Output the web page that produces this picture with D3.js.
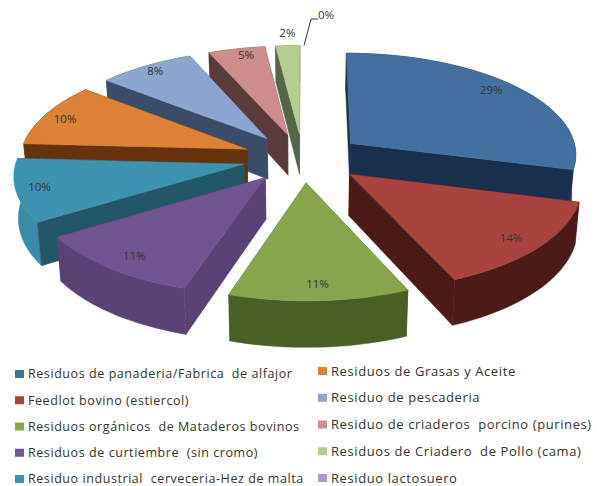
<!DOCTYPE html>
<html>
<head>
<meta charset="utf-8">
<script src="https://d3js.org/d3.v7.min.js"></script>
<style>
  html, body { margin: 0; padding: 0; background: #fff; }
  text { font-family: "Open Sans", sans-serif; fill: #333; }
</style>
</head>
<body>
<div id="chart"></div>
<script>
  var categories = [
    "Residuos de panaderia/Fabrica  de alfajor",
    "Feedlot bovino (estiercol)",
    "Residuos orgánicos  de Mataderos bovinos",
    "Residuos de curtiembre  (sin cromo)",
    "Residuo industrial  cerveceria-Hez de malta",
    "Residuos de Grasas y Aceite",
    "Residuo de pescaderia",
    "Residuo de criaderos  porcino (purines)",
    "Residuos de Criadero  de Pollo (cama)",
    "Residuo lactosuero"
  ];
  var values = [29.2, 14.3, 11.4, 11.1, 9.9, 10, 7.7, 4.5, 1.9, 0];
  var labels = ["29%", "14%", "11%", "11%", "10%", "10%", "8%", "5%", "2%", "0%"];
  var topColors = ["#44709f", "#a8433f", "#88a54e", "#70548f", "#3d93ae", "#dc8135", "#8ea6cf", "#cd8d8c", "#b5cd90", "#a99cc6"];
  var wallColors = ["#1a2f4c", "#4a1b19", "#4a5f26", "#5a4274", "#235767", "#66330f", "#3b4c66", "#5a3b3b", "#56654a", "#55486b"];
  var rimColors = ["#1a2f4c", "#4a1b19", "#4a5f26", "#5a4274", "#3a8ba5", "#66330f", "#3b4c66", "#5a3b3b", "#56654a", "#55486b"];

  var width = 597, height = 486;
  var cx = 303, cy = 158, rx = 227, ry = 101.5, persp = 0.096, explodeX = 0.267, explodeY = 0.24, depth = 41;

  var svg = d3.select("#chart")
    .append("svg")
      .attr("width", width)
      .attr("height", height)
      .style("display", "block");

  // ground plane (u right, v toward viewer) to screen
  function project(u, v, z) {
    var f = 1 / (1 - persp * v);
    var shrink = z ? 0.985 : 1;
    return [cx + rx * u * f * shrink, cy + ry * v * f + (z ? depth * f : 0)];
  }

  var arcs = d3.pie().sort(null).value(function (d) { return d; })(values);

  function ground(d, a, r) {
    var mid = (d.startAngle + d.endAngle) / 2;
    return [explodeX * Math.sin(mid) + r * Math.sin(a), -explodeY * Math.cos(mid) - r * Math.cos(a)];
  }

  function rim(d) {
    var n = Math.max(2, Math.ceil((d.endAngle - d.startAngle) * 30));
    return d3.range(n + 1).map(function (i) {
      return ground(d, d.startAngle + (d.endAngle - d.startAngle) * i / n, 1);
    });
  }

  var line = d3.line();

  function drawFace(pts, fill) {
    svg.append("path").attr("d", line(pts) + "Z").attr("fill", fill).attr("stroke", fill).attr("stroke-width", 0.5);
  }

  // back slices first so the front ones cover them
  var order = arcs.filter(function (d) { return d.value > 0; }).sort(function (a, b) {
    return ground(a, 0, 0)[1] - ground(b, 0, 0)[1];
  });

  order.forEach(function (d) {
    var i = d.index;
    var apex = ground(d, 0, 0);
    var edge = rim(d);
    var walls = [
      {pts: [apex, edge[0]], fill: wallColors[i]},
      {pts: [apex, edge[edge.length - 1]], fill: wallColors[i]},
      {pts: edge, fill: rimColors[i]}
    ];
    walls.sort(function (a, b) { return d3.mean(a.pts, function (p) { return p[1]; }) - d3.mean(b.pts, function (p) { return p[1]; }); });
    walls.forEach(function (w) {
      var up = w.pts.map(function (p) { return project(p[0], p[1], false); });
      var down = w.pts.map(function (p) { return project(p[0], p[1], true); }).reverse();
      drawFace(up.concat(down), w.fill);
    });
    drawFace([apex].concat(edge).map(function (p) { return project(p[0], p[1], false); }), topColors[i]);
  });

  // percent labels, placed by hand like the chart's best-fit ones
  var labelNudge = [[7, -8], [12, 6], [1, 9], [-8, 7], [-23, 2], [-20, -2], [-13, -9], [0, -10], [1, -3]];
  arcs.forEach(function (d, i) {
    if (d.value === 0) return;
    var mid = (d.startAngle + d.endAngle) / 2;
    var g = ground(d, mid, i === 8 ? 1.12 : 0.8);
    var p = project(g[0], g[1], false);
    svg.append("text")
      .attr("x", p[0] + labelNudge[i][0]).attr("y", p[1] + labelNudge[i][1])
      .attr("text-anchor", "middle").attr("dy", "0.35em")
      .style("font-size", "11.5px")
      .text(labels[i]);
  });

  // leader line for the empty slice
  var zero = ground(arcs[9], arcs[9].startAngle, 1);
  zero = project(zero[0], zero[1], false);
  svg.append("path")
    .attr("d", line([[zero[0] + 1, zero[1]], [311, 19], [318, 19]]))
    .attr("fill", "none").attr("stroke", "#333").attr("stroke-width", 1);
  svg.append("text").attr("x", 318).attr("y", 16).attr("dy", "0.3em")
    .style("font-size", "11.5px").text(labels[9]);

  // legend, two columns of five
  var rows = d3.range(5);
  var columns = [
    {x: 15, size: 12.5, spacing: 0.57, y: d3.scalePoint().domain(rows).range([374, 479])},
    {x: 318, size: 13, spacing: 0.6, y: d3.scalePoint().domain(rows).range([371, 478])}
  ];
  categories.forEach(function (c, i) {
    var col = columns[Math.floor(i / 5)];
    var y = col.y(i % 5);
    svg.append("rect").attr("x", col.x).attr("y", y - 4).attr("width", 9).attr("height", 8).attr("fill", topColors[i]);
    svg.append("text").attr("x", col.x + 13).attr("y", y).attr("dy", "0.35em")
      .style("font-size", col.size + "px").style("letter-spacing", col.spacing + "px").style("white-space", "pre")
      .attr("xml:space", "preserve")
      .text(c);
  });
</script>
</body>
</html>
